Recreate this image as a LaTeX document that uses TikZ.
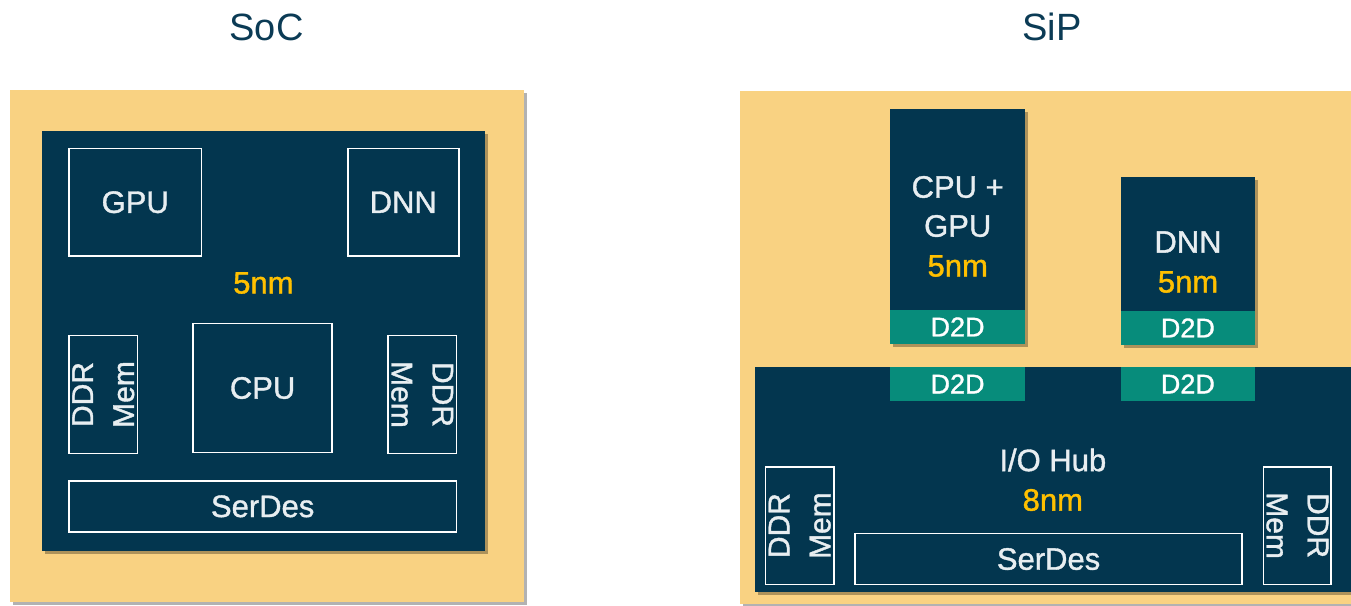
\documentclass[tikz,border=0pt]{standalone}
\usepackage{fontspec}
\setmainfont{Liberation Sans}
\newfontfamily\lblfont[FakeBold=1.2]{Liberation Sans}
\usetikzlibrary{shadows}
\definecolor{chipY}{HTML}{F9D282}
\definecolor{navy}{HTML}{03364F}
\definecolor{dtwo}{HTML}{078C7B}
\definecolor{nmY}{HTML}{FFC000}
\definecolor{txtC}{HTML}{E8EEF1}
\definecolor{titleC}{HTML}{0B3B55}
\begin{document}
\begin{tikzpicture}[x=1pt,y=-1pt,
  every node/.style={inner sep=0pt, outer sep=0pt},
  shad/.style={drop shadow={shadow xshift=3pt, shadow yshift=-3pt, opacity=0.3, fill=black}},
  subst/.style={rectangle, fill=chipY, shad},
  die/.style={rectangle, fill=navy, shad},
  block/.style={rectangle, draw=white, line width=1.6pt},
  dtwobox/.style={rectangle, fill=dtwo},
  lbl/.style={text=txtC, font=\lblfont\fontsize{31}{40}\selectfont},
  nm/.style={text=nmY, font=\lblfont\fontsize{31}{40}\selectfont},
  dlbl/.style={text=white, font=\lblfont\fontsize{27}{32}\selectfont},
  ddr/.style={text=txtC, font=\lblfont\fontsize{30}{41}\selectfont, align=center},
  ttl/.style={text=titleC, font=\fontsize{38}{44}\selectfont}]
\useasboundingbox (0,0) rectangle (1351,605);
\fill[white] (0,0) rectangle (1351,605);

% titles
\node[ttl] (tsoc) at (266.5,27) {SoC};
\node[ttl] (tsip) at (1052,27) {SiP};

% ---------- SoC ----------
\node[subst, minimum width=514pt, minimum height=512pt] (ysoc) at (266.5,345.5) {};
\node[die, minimum width=442.5pt, minimum height=420pt] (dsoc) at (263.25,341.3) {};
\node[block, minimum width=132.4pt, minimum height=107.2pt] (gpu) at (135.2,202.2) {};
\node[lbl] (tgpu) at (gpu.center) {GPU};
\node[block, minimum width=110.9pt, minimum height=107.2pt] (dnn) at (403.25,202.2) {};
\node[lbl] (tdnn) at (dnn.center) {DNN};
\node[nm] (nmsoc) at (263.4,283) {5nm};
\node[block, minimum width=138.8pt, minimum height=129.2pt] (cpu) at (262.6,388) {};
\node[lbl] (tcpu) at (cpu.center) {CPU};
\node[block, minimum width=68.7pt, minimum height=118.2pt] (ddrl) at (103.3,394.5) {};
\node[ddr, rotate=90] (tddrl) at (ddrl.center) {DDR\\Mem};
\node[block, minimum width=68.3pt, minimum height=118.2pt] (ddrr) at (422.2,394.5) {};
\node[ddr, rotate=-90] (tddrr) at (ddrr.center) {DDR\\Mem};
\node[block, minimum width=387.3pt, minimum height=51.3pt] (ser) at (262.65,506.35) {};
\node[lbl] (tser) at (ser.center) {SerDes};

% ---------- SiP ----------
\node[subst, minimum width=611pt, minimum height=513pt] (ysip) at (1045.5,347.5) {};
% CPU+GPU die
\node[die, minimum width=134.3pt, minimum height=234.4pt] (dcg) at (957.55,226.3) {};
\node[dtwobox, minimum width=134.3pt, minimum height=33.2pt] (dcgd) at (957.55,326.9) {};
\node[dlbl] (tdcgd) at (dcgd.center) {D2D};
\node[lbl] (tcpuplus) at (957.7,187) {CPU +};
\node[lbl] (tgpu2) at (957.7,226) {GPU};
\node[nm] (nmcg) at (957.7,266) {5nm};
% DNN die
\node[die, minimum width=133.9pt, minimum height=167.1pt] (ddn) at (1187.85,260.95) {};
\node[dtwobox, minimum width=133.9pt, minimum height=33.2pt] (ddnd) at (1187.85,327.9) {};
\node[dlbl] (tddnd) at (ddnd.center) {D2D};
\node[lbl] (tdnn2) at (1188,242) {DNN};
\node[nm] (nmdn) at (1188,282) {5nm};
% I/O hub
\node[die, minimum width=596pt, minimum height=224.3pt] (hub) at (1053,479.35) {};
\node[dtwobox, minimum width=134.3pt, minimum height=33.5pt] (hd1) at (957.55,383.95) {};
\node[dlbl] (thd1) at (hd1.center) {D2D};
\node[dtwobox, minimum width=133.9pt, minimum height=33.5pt] (hd2) at (1187.85,383.95) {};
\node[dlbl] (thd2) at (hd2.center) {D2D};
\node[lbl] (thub) at (1052.8,460) {I/O Hub};
\node[nm] (nmhub) at (1052.8,500) {8nm};
\node[block, minimum width=68.2pt, minimum height=117.8pt] (hddrl) at (799.7,525.6) {};
\node[ddr, rotate=90] (thddrl) at (hddrl.center) {DDR\\Mem};
\node[block, minimum width=386.9pt, minimum height=50.9pt] (hser) at (1048.55,559.05) {};
\node[lbl] (thser) at (hser.center) {SerDes};
\node[block, minimum width=67.7pt, minimum height=117.8pt] (hddrr) at (1297.35,525.6) {};
\node[ddr, rotate=-90] (thddrr) at (hddrr.center) {DDR\\Mem};
\end{tikzpicture}
\end{document}
